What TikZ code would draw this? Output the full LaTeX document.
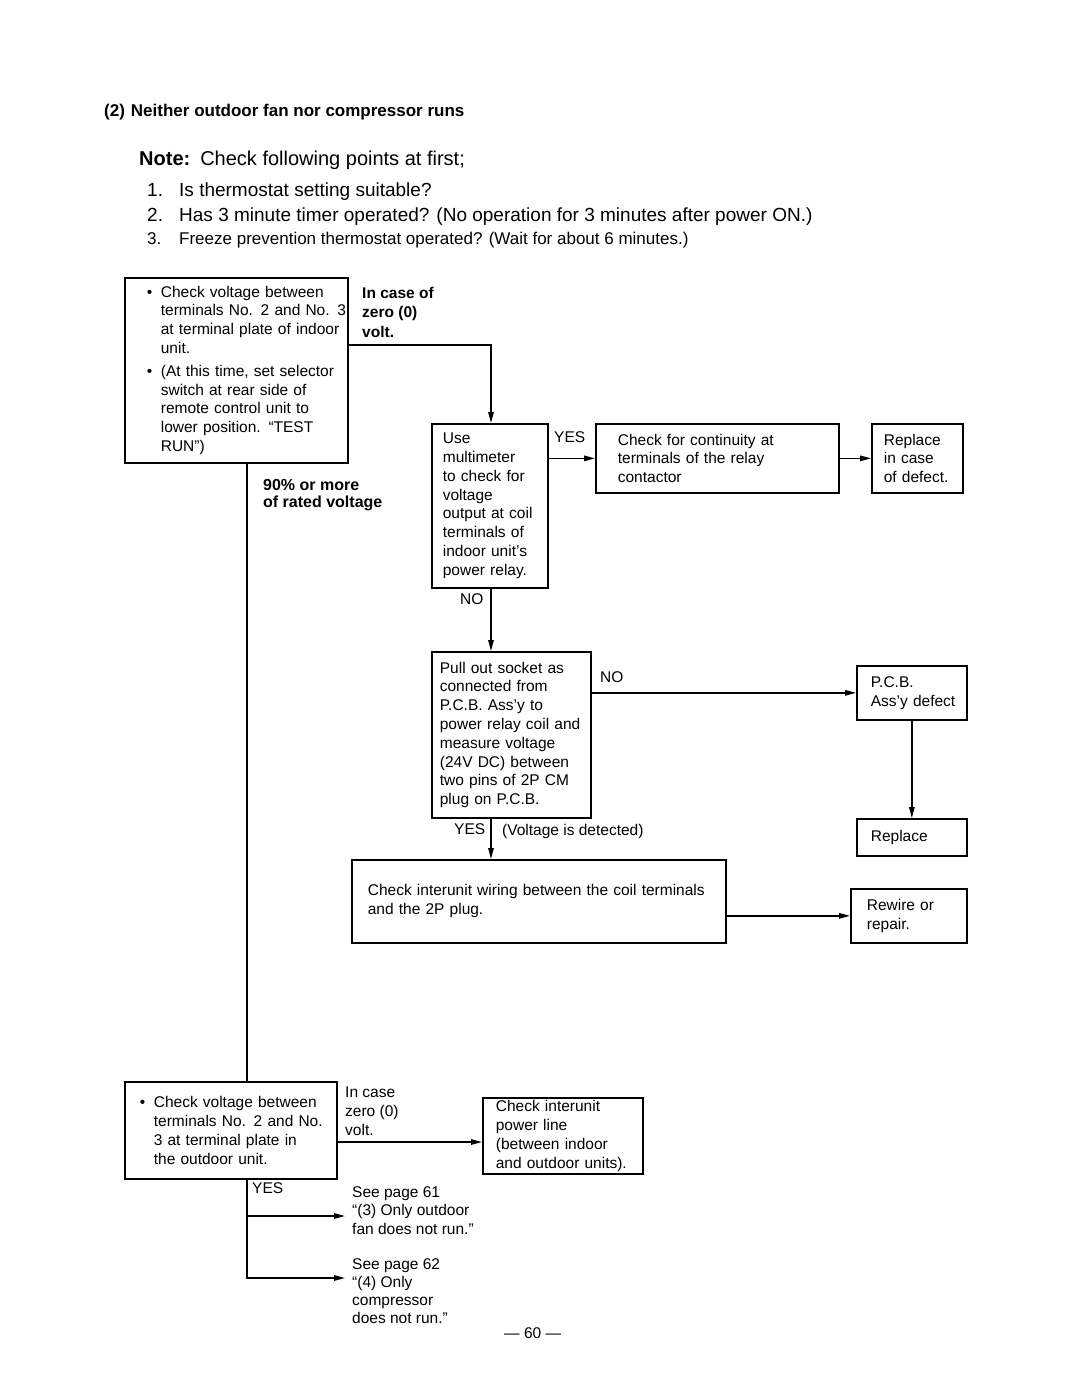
\documentclass[tikz,border=0pt]{standalone}
\usepackage{fontspec}
\setmainfont{Liberation Sans}
\usetikzlibrary{arrows.meta}
\newcommand\bul{\leavevmode\llap{\textbullet\hspace{8.5pt}}}
\newcommand\bx[2]{\leftskip=#1\rightskip=0pt plus 1fil minus 300pt\parindent=0pt\relax #2\par}
\begin{document}
\begin{tikzpicture}[x=1pt,y=-1pt,
  box/.style={draw, line width=1.7pt, align=left, anchor=north west, inner xsep=6pt, inner ysep=0pt, font=\fontsize{15.5}{18.8}\selectfont},
  arr/.style={line width=1.4pt, -{Triangle[length=11pt,width=5.5pt]}},
  ln/.style={line width=1.4pt},
  txt/.style={anchor=north west, inner sep=0pt, align=left, font=\fontsize{15.5}{19}\selectfont},
  btxt/.style={txt, font=\bfseries\fontsize{15.5}{19.5}\selectfont},
  head/.style={anchor=base west, inner sep=0pt},
]
\useasboundingbox (0,0) rectangle (1080,1397);
\fill[white] (0,0) rectangle (1080,1397);

% header
\node[head, font=\bfseries\fontsize{17}{19}\selectfont] (title) at (104,116) {(2)\hspace{6pt}Neither outdoor fan nor compressor runs};
\node[head, font=\fontsize{20}{22}\selectfont] (note) at (139,165) {\textbf{Note:}\hspace{10pt}Check following points at first;};
\node[head, font=\fontsize{19}{21}\selectfont] (item1) at (147,196) {\makebox[32pt][l]{1.}Is thermostat setting suitable?};
\node[head, font=\fontsize{19}{21}\selectfont] (item2) at (147,221) {\makebox[32pt][l]{2.}Has 3 minute timer operated? (No operation for 3 minutes after power ON.)};
\node[head, font=\fontsize{17}{19}\selectfont] (item3) at (147,244) {\makebox[32pt][l]{3.}Freeze prevention thermostat operated? (Wait for about 6 minutes.)};

% boxes
\node[box, text width=211pt, minimum height=185pt] (A) at (124,277) {\bx{30pt}{\bul Check voltage between\\terminals No. 2 and No. 3\\at terminal plate of indoor\\unit.\\[4pt]\bul (At this time, set selector\\switch at rear side of\\remote control unit to\\lower position. ``TEST\\RUN'')}};
\node[box, text width=104pt, minimum height=164pt] (B) at (431,423) {\bx{5pt}{Use\\multimeter\\to check for\\voltage\\output at coil\\terminals of\\indoor unit's\\power relay.}};
\node[box, text width=231pt, minimum height=69pt] (C) at (595,423) {\bx{16pt}{Check for continuity at\\terminals of the relay\\contactor}};
\node[box, text width=79pt, minimum height=69pt] (D) at (871,423) {\bx{6pt}{Replace\\in case\\of defect.}};
\node[box, text width=147pt, minimum height=166pt] (E) at (431,651) {\bx{2pt}{Pull out socket as\\connected from\\P.C.B. Ass'y to\\power relay coil and\\measure voltage\\(24V DC) between\\two pins of 2P CM\\plug on P.C.B.}};
\node[box, text width=98pt, minimum height=54pt] (G) at (856,665) {\bx{8pt}{P.C.B.\\Ass'y defect}};
\node[box, text width=98pt, minimum height=37pt] (H) at (856,818) {\bx{8pt}{Replace}};
\node[box, text width=362pt, minimum height=83pt] (I) at (351,859) {\bx{10pt}{Check interunit wiring between the coil terminals\\and the 2P plug.}};
\node[box, text width=104pt, minimum height=54pt] (J) at (850,888) {\bx{10pt}{Rewire or\\repair.}};
\node[box, text width=200pt, minimum height=97pt] (F) at (124,1081) {\bx{23pt}{\bul Check voltage between\\terminals No. 2 and No.\\3 at terminal plate in\\the outdoor unit.}};
\node[box, text width=148pt, minimum height=76pt] (K) at (482,1097) {\bx{7pt}{Check interunit\\power line\\(between indoor\\and outdoor units).}};

% labels
\node[btxt] (zero1) at (362,287) {In case of\\zero (0)\\volt.};
\node[btxt, font=\bfseries\fontsize{16}{17.5}\selectfont] (ninety) at (263,479) {90\% or more\\of rated voltage};
\node[txt] (yes1) at (554,431) {YES};
\node[txt] (no1) at (460,593) {NO};
\node[txt] (no2) at (600,671) {NO};
\node[txt] (yes2) at (454,823) {YES};
\node[txt] (vdet) at (502,824) {(Voltage is detected)};
\node[txt] (zero2) at (345,1087) {In case\\zero (0)\\volt.};
\node[txt] (yes3) at (252,1182) {YES};
\node[txt, font=\fontsize{15.5}{18.5}\selectfont] (see61) at (352,1186) {See page 61\\``(3) Only outdoor\\fan does not run.''};
\node[txt, font=\fontsize{15.5}{18.3}\selectfont] (see62) at (352,1258) {See page 62\\``(4) Only\\compressor\\does not run.''};
\node[txt] (pg) at (504,1327) {\textemdash\ 60 \textemdash};

% connectors
\coordinate (y345) at (0,345);
\coordinate (x247) at (247,0);
\coordinate (x491) at (491,0);
\coordinate (y1142) at (0,1142);
\coordinate (to61) at (345,1216);
\coordinate (to62) at (345,1278);
\draw[arr] (A.east |- y345) -| (x491 |- B.north);
\draw[ln] (A.south -| x247) -- (F.north -| x247);
\draw[arr] (B.east |- C.west) -- (C.west);
\draw[arr] (C.east) -- (D.west);
\draw[arr] (B.south -| x491) -- (E.north -| x491);
\draw[arr] (E.east |- G.west) -- (G.west);
\draw[arr] (G.south) -- (H.north);
\draw[arr] (E.south -| x491) -- (I.north -| x491);
\draw[arr] (I.east |- J.west) -- (J.west);
\draw[arr] (F.east |- y1142) -- (K.west |- y1142);
\draw[arr] (F.south -| x247) |- (to62);
\draw[arr] (x247 |- to61) -- (to61);
\end{tikzpicture}
\end{document}
